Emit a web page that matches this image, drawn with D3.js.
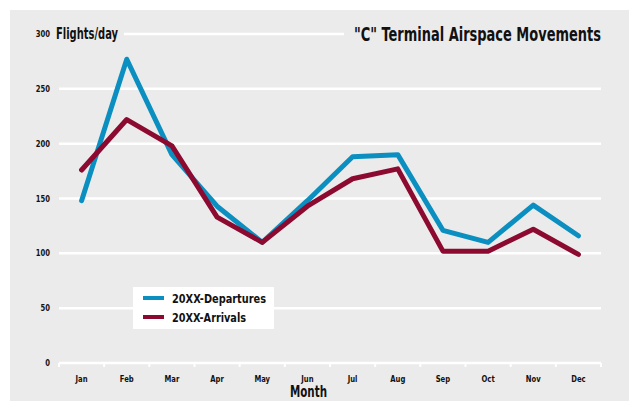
<!DOCTYPE html>
<html>
<head>
<meta charset="utf-8">
<script src="https://cdn.jsdelivr.net/npm/d3@7"></script>
<style>
  body { margin: 0; background: #fff; }
  text { font-family: "DejaVu Sans Condensed", "Liberation Sans Narrow", "Liberation Sans", sans-serif; font-weight: bold; fill: #111; }
</style>
</head>
<body>
<svg id="chart" width="629" height="401"></svg>
<script>
// monthly values
const months = ["Jan", "Feb", "Mar", "Apr", "May", "Jun", "Jul", "Aug", "Sep", "Oct", "Nov", "Dec"];
const departures = [148, 277, 190, 143, 110, 148, 188, 190, 121, 110, 144, 116];
const arrivals = [176, 222, 198, 133, 110, 143, 168, 177, 102, 102, 122, 99];
const yTicks = [0, 50, 100, 150, 200, 250, 300];
const seriesNames = ["20XX-Departures", "20XX-Arrivals"];
const seriesColors = ["#0a8fc0", "#8c0a30"];

const width = 629, height = 401;
const svg = d3.select("#chart");

// squeeze text horizontally, the original uses a condensed face
function squeeze(sel, k) {
  sel.each(function () {
    const w = this.getComputedTextLength();
    d3.select(this).attr("textLength", w * k).attr("lengthAdjust", "spacingAndGlyphs");
  });
}

svg.append("rect").attr("x", 10).attr("y", 10)
  .attr("width", width - 10).attr("height", height - 10)
  .attr("fill", "#ebebeb");

const x = d3.scaleBand().domain(months).range([59, 601]);
const y = d3.scaleLinear().domain([0, 300]).range([363, 34]);

// gridlines
svg.append("g").selectAll("line").data(yTicks.filter(d => d > 0)).join("line")
  .attr("x1", 59).attr("x2", 601)
  .attr("y1", d => y(d)).attr("y2", d => y(d))
  .attr("stroke", "#fff").attr("stroke-width", 2.5);

// y axis labels
svg.append("g").selectAll("text").data(yTicks).join("text")
  .attr("x", 50).attr("y", d => y(d) + 3)
  .attr("text-anchor", "end")
  .attr("font-size", 9.5)
  .text(d => d)
  .call(squeeze, 0.8);

// x axis
const xAxis = d3.axisBottom(x).tickSize(0).tickPadding(12);
const gx = svg.append("g").attr("transform", `translate(0,${y(0)})`).call(xAxis);
gx.select(".domain").attr("stroke", "#fff").attr("stroke-width", 2.5)
  .attr("d", "M59,0H601");
gx.selectAll(".tick text").attr("font-size", 9.5).attr("font-family", null).attr("fill", "#111")
  .call(squeeze, 0.8);
// band separators
svg.append("g").selectAll("line").data(months.map(m => x(m)).concat([601])).join("line")
  .attr("x1", d => d).attr("x2", d => d)
  .attr("y1", y(0)).attr("y2", y(0) + 4)
  .attr("stroke", "#fff").attr("stroke-width", 2);

// lines
const line = d3.line()
  .x((d, i) => x(months[i]) + x.bandwidth() / 2)
  .y(d => y(d));
[departures, arrivals].forEach((s, k) => {
  svg.append("path").datum(s)
    .attr("fill", "none")
    .attr("stroke", seriesColors[k])
    .attr("stroke-width", 5)
    .attr("stroke-linejoin", "round")
    .attr("stroke-linecap", "round")
    .attr("d", line);
});

// titles, with background to hide the top gridline
svg.append("rect").attr("x", 53).attr("y", 22).attr("width", 71).attr("height", 22).attr("fill", "#ebebeb");
svg.append("text").attr("x", 56).attr("y", 39).attr("font-size", 16)
  .attr("textLength", 62).attr("lengthAdjust", "spacingAndGlyphs").text("Flights/day");
svg.append("rect").attr("x", 344).attr("y", 20).attr("width", 262).attr("height", 26).attr("fill", "#ebebeb");
svg.append("text").attr("x", 354).attr("y", 41)
  .attr("font-size", 20).attr("textLength", 247).attr("lengthAdjust", "spacingAndGlyphs")
  .text("\"C\" Terminal Airspace Movements");
svg.append("text").attr("x", 290).attr("y", 397)
  .attr("font-size", 15).attr("textLength", 37).attr("lengthAdjust", "spacingAndGlyphs")
  .text("Month");

// legend
const lg = svg.append("g").attr("transform", "translate(133,287)");
lg.append("rect").attr("width", 141).attr("height", 42).attr("fill", "#fff");
const legendWidths = [94, 74];
seriesNames.forEach((n, k) => {
  const yy = 11 + k * 19;
  lg.append("line").attr("x1", 10).attr("x2", 31).attr("y1", yy).attr("y2", yy)
    .attr("stroke", seriesColors[k]).attr("stroke-width", 4);
  lg.append("text").attr("x", 39).attr("y", yy + 4.5).attr("font-size", 12.5)
    .attr("textLength", legendWidths[k]).attr("lengthAdjust", "spacingAndGlyphs").text(n);
});
</script>
</body>
</html>
